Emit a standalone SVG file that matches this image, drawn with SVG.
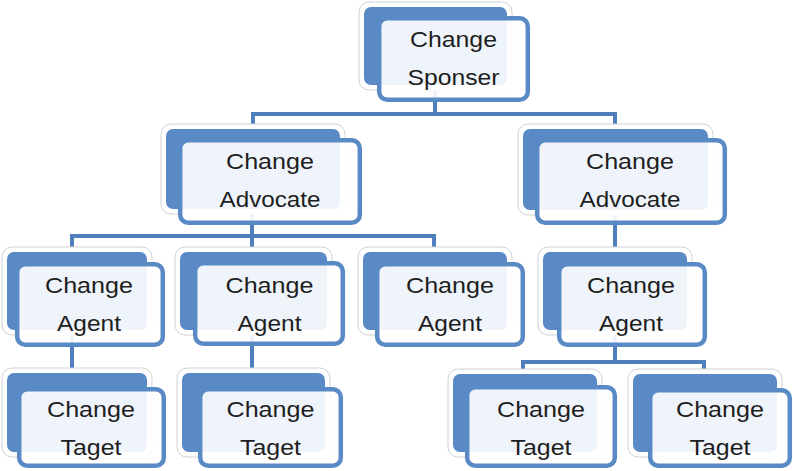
<svg xmlns="http://www.w3.org/2000/svg" width="793" height="471" viewBox="0 0 793 471">
  <style>
    .rim { fill: #ffffff; stroke: #d2d2d2; stroke-width: 1; }
    .back { fill: #5a8ac6; }
    .front { fill: #ffffff; fill-opacity: 0.9; stroke: #5a8ac6; stroke-width: 4.5; }
    .wire { fill: none; stroke: #4f7fbc; stroke-width: 4; stroke-linejoin: miter; }
    .label { font-family: "Liberation Sans", Arial, sans-serif; font-size: 22px; fill: #1e1e1e; text-anchor: middle; }
  </style>
  <rect x="0" y="0" width="793" height="471" fill="#ffffff"/>

  <!-- connectors -->
  <g id="connectors">
    <path class="wire" d="M435,50 V114 M253,114 H615 M253,112 V126 M615,112 V126"/>
    <path class="wire" d="M252,170 V236 M72,236 H434 M72,234 V250 M252,236 V250 M434,234 V250"/>
    <path class="wire" d="M615,170 V250"/>
    <path class="wire" d="M72,300 V371"/>
    <path class="wire" d="M252,300 V371"/>
    <path class="wire" d="M615,300 V362 M523,362 H704 M523,360 V372 M704,360 V372"/>
  </g>

  <!-- top level -->
  <g id="sponsor">
    <rect class="rim" x="359" y="2" width="153" height="88" rx="10"/>
    <rect class="back" x="364" y="7" width="143" height="78" rx="7"/>
    <rect class="front" x="379.2" y="18.2" width="148.6" height="81.6" rx="8"/>
    <text class="label" x="453.5" y="47" textLength="87" lengthAdjust="spacingAndGlyphs">Change</text>
    <text class="label" x="453.5" y="85" textLength="92" lengthAdjust="spacingAndGlyphs">Sponser</text>
  </g>

  <!-- second level -->
  <g id="advocate-left">
    <rect class="rim" x="161" y="124" width="184" height="90" rx="10"/>
    <rect class="back" x="166" y="129" width="174" height="80" rx="7"/>
    <rect class="front" x="180.2" y="140.2" width="179.6" height="82.6" rx="8"/>
    <text class="label" x="270" y="169" textLength="88" lengthAdjust="spacingAndGlyphs">Change</text>
    <text class="label" x="270" y="207" textLength="101" lengthAdjust="spacingAndGlyphs">Advocate</text>
  </g>
  <g id="advocate-right">
    <rect class="rim" x="518" y="124" width="195" height="91" rx="10"/>
    <rect class="back" x="523" y="129" width="185" height="81" rx="7"/>
    <rect class="front" x="537.2" y="140.2" width="187.6" height="82.6" rx="8"/>
    <text class="label" x="630" y="169" textLength="88" lengthAdjust="spacingAndGlyphs">Change</text>
    <text class="label" x="630" y="207" textLength="101" lengthAdjust="spacingAndGlyphs">Advocate</text>
  </g>

  <!-- third level -->
  <g id="agent-1">
    <rect class="rim" x="2" y="247" width="150" height="88" rx="10"/>
    <rect class="back" x="7" y="252" width="140" height="78" rx="7"/>
    <rect class="front" x="17.2" y="264.2" width="145.6" height="80.6" rx="8"/>
    <text class="label" x="89" y="293" textLength="88" lengthAdjust="spacingAndGlyphs">Change</text>
    <text class="label" x="89" y="331" textLength="64" lengthAdjust="spacingAndGlyphs">Agent</text>
  </g>
  <g id="agent-2">
    <rect class="rim" x="175" y="247" width="157" height="88" rx="10"/>
    <rect class="back" x="180" y="252" width="147" height="78" rx="7"/>
    <rect class="front" x="195.2" y="263.2" width="147.6" height="80.6" rx="8"/>
    <text class="label" x="269.5" y="293" textLength="88" lengthAdjust="spacingAndGlyphs">Change</text>
    <text class="label" x="269.5" y="331" textLength="64" lengthAdjust="spacingAndGlyphs">Agent</text>
  </g>
  <g id="agent-3">
    <rect class="rim" x="358" y="247" width="154" height="88" rx="10"/>
    <rect class="back" x="363" y="252" width="144" height="78" rx="7"/>
    <rect class="front" x="377.2" y="264.2" width="145.6" height="80.6" rx="8"/>
    <text class="label" x="450" y="293" textLength="88" lengthAdjust="spacingAndGlyphs">Change</text>
    <text class="label" x="450" y="331" textLength="64" lengthAdjust="spacingAndGlyphs">Agent</text>
  </g>
  <g id="agent-4">
    <rect class="rim" x="538" y="247" width="154" height="88" rx="10"/>
    <rect class="back" x="543" y="252" width="144" height="78" rx="7"/>
    <rect class="front" x="559.2" y="264.2" width="145.6" height="80.6" rx="8"/>
    <text class="label" x="631" y="293" textLength="88" lengthAdjust="spacingAndGlyphs">Change</text>
    <text class="label" x="631" y="331" textLength="64" lengthAdjust="spacingAndGlyphs">Agent</text>
  </g>

  <!-- fourth level -->
  <g id="target-1">
    <rect class="rim" x="2" y="368" width="150" height="89" rx="10"/>
    <rect class="back" x="7" y="373" width="140" height="79" rx="7"/>
    <rect class="front" x="19.2" y="389.2" width="144.6" height="76.6" rx="8"/>
    <text class="label" x="91" y="417" textLength="88" lengthAdjust="spacingAndGlyphs">Change</text>
    <text class="label" x="91" y="455" textLength="61" lengthAdjust="spacingAndGlyphs">Taget</text>
  </g>
  <g id="target-2">
    <rect class="rim" x="177" y="368" width="153" height="89" rx="10"/>
    <rect class="back" x="182" y="373" width="143" height="79" rx="7"/>
    <rect class="front" x="200.2" y="389.2" width="140.6" height="76.6" rx="8"/>
    <text class="label" x="270.5" y="417" textLength="88" lengthAdjust="spacingAndGlyphs">Change</text>
    <text class="label" x="270.5" y="455" textLength="61" lengthAdjust="spacingAndGlyphs">Taget</text>
  </g>
  <g id="target-3">
    <rect class="rim" x="448" y="369" width="154" height="88" rx="10"/>
    <rect class="back" x="453" y="374" width="144" height="78" rx="7"/>
    <rect class="front" x="467.2" y="387.2" width="147.6" height="78.6" rx="8"/>
    <text class="label" x="541" y="417" textLength="88" lengthAdjust="spacingAndGlyphs">Change</text>
    <text class="label" x="541" y="455" textLength="61" lengthAdjust="spacingAndGlyphs">Taget</text>
  </g>
  <g id="target-4">
    <rect class="rim" x="628" y="369" width="154" height="88" rx="10"/>
    <rect class="back" x="633" y="374" width="144" height="78" rx="7"/>
    <rect class="front" x="650.2" y="390.2" width="139.6" height="75.6" rx="8"/>
    <text class="label" x="720" y="417" textLength="88" lengthAdjust="spacingAndGlyphs">Change</text>
    <text class="label" x="720" y="455" textLength="61" lengthAdjust="spacingAndGlyphs">Taget</text>
  </g>
</svg>
